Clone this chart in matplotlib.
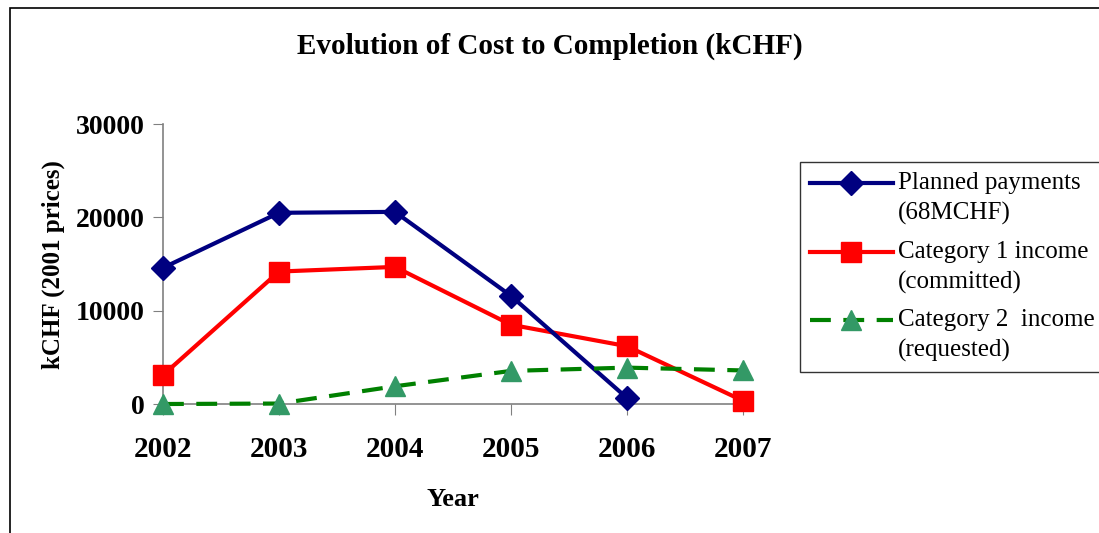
import matplotlib
matplotlib.use("Agg")
import numpy as np
import matplotlib.pyplot as plt
from matplotlib.patches import Rectangle

plt.rcParams['font.family'] = ['Liberation Serif', 'DejaVu Serif']

# Data
years = [2002, 2003, 2004, 2005, 2006, 2007]
planned = [14600, 20500, 20600, 11600, 650, None]
cat1 = [3100, 14200, 14700, 8500, 6200, 350]
cat2 = [0, 50, 1900, 3550, 3900, 3600]

labels = ["Planned payments\n(68MCHF)",
          "Category 1 income\n(committed)",
          "Category 2  income\n(requested)"]

fig = plt.figure(figsize=(10.99, 5.33), dpi=100)
ax = fig.add_axes([0.1483, 0.242, 0.676 - 0.1483, 0.767 - 0.242])

# outer frame around the chart area
fig.patches.append(Rectangle((10 / 1099, -0.05), 1.2, 1 - 8 / 533 + 0.05,
                             transform=fig.transFigure, fill=False,
                             edgecolor='black', linewidth=1.2))

py = [y for y in planned if y is not None]
ax.plot(years[:len(py)], py, color='#000080', lw=3, marker='D', ms=12,
        mfc='#000080', mec='#000080', clip_on=False, label=labels[0], zorder=4)
ax.plot(years, cat1, color='#FF0000', lw=3, marker='s', ms=14,
        mfc='#FF0000', mec='#FF0000', clip_on=False, label=labels[1], zorder=3)
ax.plot(years, cat2, color='#008000', lw=3, ls=(0, (5, 3)), marker='^', ms=15,
        mfc='#339966', mec='#339966', clip_on=False, label=labels[2], zorder=5)

ax.set_xlim(2002, 2007)
ax.set_ylim(0, 30000)
ax.set_xticks(years)
ax.set_yticks([0, 10000, 20000, 30000])
ax.tick_params(axis='x', labelsize=21, length=8, color='#808080', pad=15)
ax.tick_params(axis='y', labelsize=20, length=7, color='#808080', pad=6)
for lbl in ax.get_xticklabels() + ax.get_yticklabels():
    lbl.set_fontweight('bold')

for side in ['top', 'right']:
    ax.spines[side].set_visible(False)
for side in ['left', 'bottom']:
    ax.spines[side].set_color('#808080')
    ax.spines[side].set_linewidth(1.2)

ax.set_ylabel("kCHF (2001 prices)", fontsize=18, fontweight='bold', labelpad=8)
ax.set_xlabel("Year", fontsize=19, fontweight='bold', labelpad=18)

fig.text(0.5, 1 - 46 / 533, "Evolution of Cost to Completion (kCHF)",
         ha='center', va='center', fontsize=21, fontweight='bold')

leg = fig.legend(loc='upper left', bbox_to_anchor=(800 / 1099, 1 - 162 / 533),
                 fontsize=18, frameon=True, fancybox=False, handlelength=3.3,
                 handletextpad=0.2, borderpad=0.4, labelspacing=0.62,
                 borderaxespad=0)
for t in leg.get_texts():
    t.set_linespacing(1.45)
# line up the handles with the first text line, as in the original
for h in leg.legend_handles:
    h.set_ydata(np.asarray(h.get_ydata()) + 10.8)
leg.get_frame().set_edgecolor('black')
leg.get_frame().set_linewidth(1.0)

fig.savefig("out.png", dpi=100)
